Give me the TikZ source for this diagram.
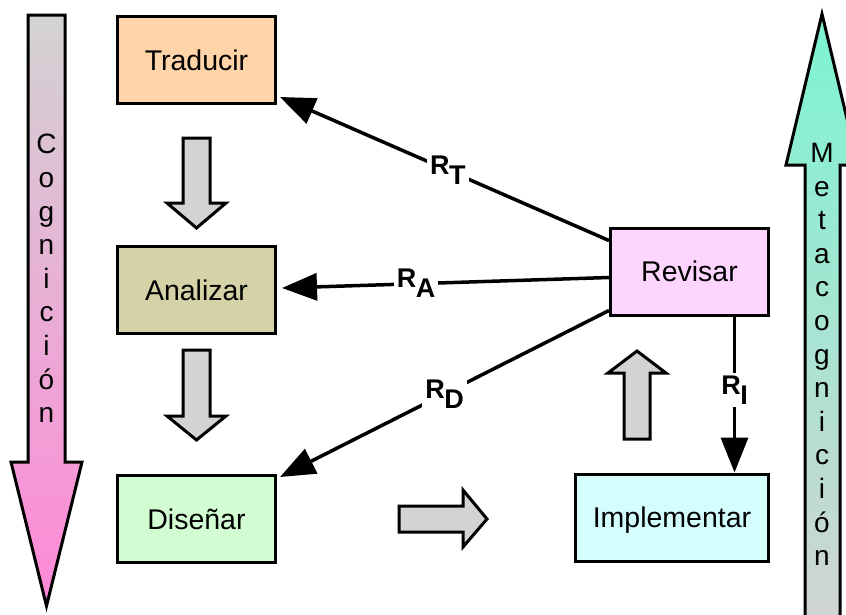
\documentclass[tikz,border=0pt]{standalone}
\usepackage{fontspec}
\setmainfont{Liberation Sans}
\usetikzlibrary{arrows.meta}

\definecolor{cTrad}{HTML}{FFD4A8}
\definecolor{cAna}{HTML}{D4D2A6}
\definecolor{cDis}{HTML}{D2FDD2}
\definecolor{cRev}{HTML}{FED5FE}
\definecolor{cImp}{HTML}{D4FEFE}
\definecolor{cGray}{HTML}{D3D3D3}
\definecolor{cPink}{HTML}{FF88D8}
\definecolor{cTeal}{HTML}{7CF5D2}

\begin{document}
\begin{tikzpicture}[x=1pt,y=-1pt,
  box/.style={draw, line width=3pt, inner sep=0pt, text depth=0pt,
    minimum width=158pt, minimum height=87pt,
    font=\fontsize{28.5}{31}\selectfont},
  feedback/.style={line width=3.5pt, -{Triangle[length=35pt,width=27pt]}},
  rlabel/.style={fill=white, inner sep=3pt, font=\fontsize{27}{30}\bfseries\selectfont},
  blockarrow/.style={draw, line width=3pt, fill=cGray, line join=miter},
  bigarrow/.style={draw, line width=3pt, line join=miter},
  vertword/.style={align=center, inner sep=0pt, font=\fontsize{28}{33.6}\selectfont}]

\clip (0,0) rectangle (846,614);
\fill[white] (0,0) rectangle (846,614);

% phase boxes
\node[box, fill=cTrad] (trad) at (196.5,60)    {Traducir};
\node[box, fill=cAna]  (ana)  at (196.5,290)   {Analizar};
\node[box, fill=cDis]  (dis)  at (196.5,519)   {Diseñar};
\node[box, fill=cRev]  (rev)  at (689.5,271.5) {Revisar};
\node[box, fill=cImp, minimum width=193pt] (imp) at (672,517.5) {Implementar};

% gray flow arrows between phases
\draw[blockarrow] (183,138) -- (210,138) -- (210,203) -- (226,203) -- (196.5,228)
  -- (167,203) -- (183,203) -- cycle;
\draw[blockarrow] (183,350) -- (210,350) -- (210,416) -- (226,416) -- (196.5,440)
  -- (167,416) -- (183,416) -- cycle;
\draw[blockarrow] (399,506) -- (463,506) -- (463,490) -- (487,519) -- (463,547)
  -- (463,532) -- (399,532) -- cycle;
\draw[blockarrow] (624,439) -- (624,373) -- (608,373) -- (637,351) -- (666,373)
  -- (650,373) -- (650,439) -- cycle;

% feedback from Revisar to the other phases
\draw[feedback] ([yshift=-14pt]rev.north west) --
  node[rlabel, pos=0.49] (rt) {R\kern-0.5pt\raisebox{-10pt}{T}}
  ([xshift=3pt,yshift=8pt]trad.south east);
\draw[feedback] ([yshift=-6pt]rev.west) --
  node[rlabel, pos=0.59] (ra) {R\kern-0.5pt\raisebox{-10pt}{A}}
  ([xshift=5pt,yshift=2pt]ana.east);
\draw[feedback] ([yshift=6pt]rev.south west) --
  node[rlabel, pos=0.5] (rd) {R\kern-0.5pt\raisebox{-10pt}{D}}
  ([xshift=3pt,yshift=-3pt]dis.north east);
\draw[feedback] ([xshift=45pt]rev.south) --
  node[rlabel, pos=0.47] (ri) {R\kern-0.5pt\raisebox{-10pt}{I}}
  ([xshift=45pt]rev.south |- imp.north);

% side arrows: cognition downwards, metacognition upwards
\shadedraw[bigarrow, top color=cGray, bottom color=cPink]
  (28,15) -- (65,15) -- (65,462) -- (82,462) -- (46.5,606) -- (11,462) -- (28,462) -- cycle;
\node[vertword] (cog) at (46.5,278.5) {C\\o\\g\\n\\i\\c\\i\\ó\\n};

\shadedraw[bigarrow, top color=cTeal, bottom color=cGray]
  (805,640) -- (805,165) -- (786,165) -- (822,14) -- (858,165) -- (840,165) -- (840,640) -- cycle;
\node[vertword] (meta) at (822,354.5) {M\\e\\t\\a\\c\\o\\g\\n\\i\\c\\i\\ó\\n};

\end{tikzpicture}
\end{document}
